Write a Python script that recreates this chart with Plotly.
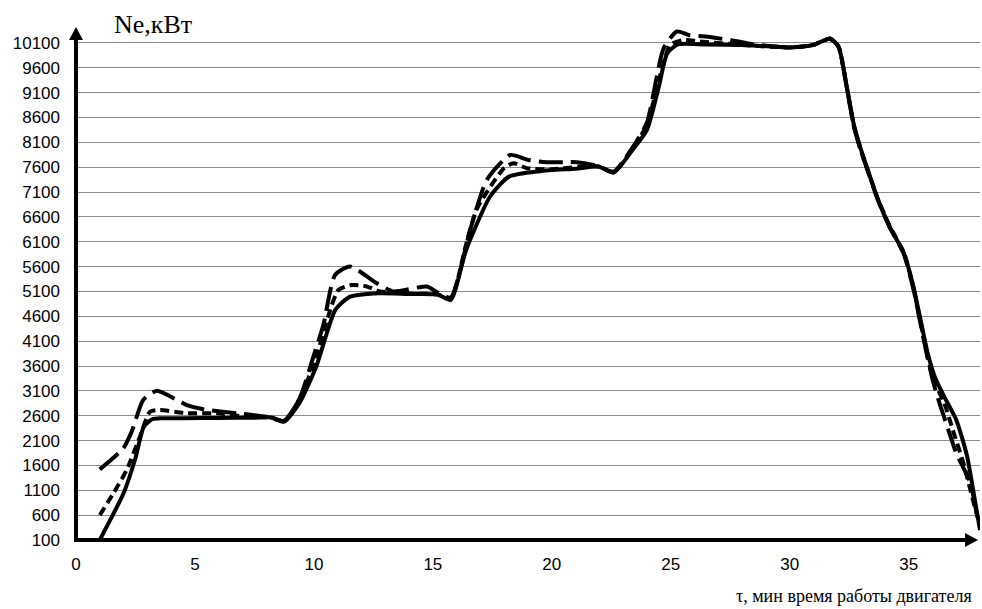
import plotly.graph_objects as go

# Engine power Ne (kW) versus running time tau (min) for three runs
t_solid = [1.0, 1.5, 2.0, 2.5, 2.85, 3.2, 3.6, 4.5, 6.0, 7.5, 8.2, 8.75, 9.4, 10.1,
           10.9, 11.5, 12.5, 14.0, 15.2, 15.75, 16.4, 17.4, 18.2, 19.5, 21.0, 22.0,
           22.6, 23.4, 24.0, 24.5, 24.85, 25.3, 26.5, 28.0, 30.0, 31.0, 31.7, 32.05,
           32.4, 32.7, 33.0, 33.35, 33.7, 34.2, 34.8, 35.2, 35.5, 35.8, 36.1, 36.5,
           37.0, 37.45, 37.75, 38.0]
ne_solid = [100, 560, 1040, 1750, 2380, 2530, 2550, 2550, 2555, 2560, 2565, 2480, 2860, 3590,
            4730, 4990, 5060, 5050, 5040, 4930, 5935, 7005, 7410, 7520, 7570, 7610,
            7490, 7950, 8350, 9220, 9890, 10070, 10070, 10060, 10010, 10060, 10190, 10030,
            9220, 8450, 7950, 7450, 6960, 6400, 5870, 5200, 4530, 3860, 3380, 2980,
            2520, 1800, 1000, 300]

t_short = [1.0, 1.57, 2.13, 2.69, 3.11, 3.53, 4.66, 5.92, 7.18, 8.2, 8.75, 9.35, 10.05,
           10.6, 11.03, 11.59, 12.22, 12.78, 14.0, 15.2, 15.75, 16.4, 16.85, 17.97, 18.39,
           18.95, 20.0, 21.9, 22.6, 23.4, 24.0, 24.5, 24.98, 25.54, 26.17, 28.0, 30.0,
           31.0, 31.7, 32.05, 32.4, 32.7, 33.0, 33.35, 33.7, 34.2, 34.8, 35.2, 35.5,
           35.8, 36.05, 36.5, 36.9, 37.3, 37.6, 37.9]
ne_short = [600, 1040, 1510, 2180, 2680, 2715, 2650, 2650, 2580, 2565, 2490, 2900, 3700,
            4600, 5130, 5230, 5200, 5100, 5060, 5040, 4950, 6050, 6760, 7570, 7680,
            7580, 7560, 7620, 7500, 7980, 8450, 9350, 10060, 10160, 10130, 10060, 10010,
            10060, 10190, 10030, 9200, 8430, 7930, 7440, 6970, 6420, 5880, 5180, 4480,
            3800, 3320, 2850, 2250, 1650, 1100, 550]

t_long = [1.0, 1.99, 2.34, 2.83, 3.39, 4.66, 5.35, 6.76, 8.0, 8.75, 9.4, 9.98, 10.4,
          10.89, 11.52, 12.65, 13.34, 14.75, 15.2, 15.75, 16.57, 17.27, 18.25, 19.02,
          19.8, 21.05, 21.9, 22.6, 23.4, 24.0, 24.7, 25.26, 25.75, 26.45, 27.85, 28.5,
          30.0, 31.0, 31.7, 32.05, 32.4, 32.7, 33.0, 33.35, 33.7, 34.2, 34.8, 35.2,
          35.5, 35.8, 36.05, 36.3, 36.75, 37.0, 37.6, 37.85]
ne_long = [1520, 1945, 2280, 2920, 3100, 2815, 2730, 2650, 2580, 2500, 2950, 3790, 4430,
           5430, 5600, 5265, 5100, 5200, 5080, 4980, 6340, 7345, 7845, 7745,
           7700, 7700, 7630, 7510, 8000, 8500, 9990, 10330, 10260, 10230, 10130, 10070,
           10010, 10060, 10180, 10020, 9200, 8420, 7920, 7430, 6950, 6400, 5850, 5150,
           4450, 3750, 3250, 2850, 2200, 1850, 1240, 650]

x_ticks = [0, 5, 10, 15, 20, 25, 30, 35]
y_ticks = list(range(100, 10101, 500))

X_RANGE = [0, 38]
Y_RANGE = [100, 10420]

fig = go.Figure()

series = [
    (t_solid, ne_solid, "solid"),
    (t_short, ne_short, "9px,5px"),
    (t_long, ne_long, "24px,8px"),
]
for t, ne, dash in series:
    fig.add_trace(go.Scatter(
        x=t, y=ne, mode="lines",
        line=dict(color="black", width=4, dash=dash, shape="spline", smoothing=0.6),
        cliponaxis=False, showlegend=False, hoverinfo="skip",
    ))

# plot area geometry (pixels) used for the axis arrows
L, R, T, B = 76, 2, 27, 69
W, H = 982, 609
pw = W - L - R
ph = H - T - B
head = 13  # arrowhead length in px

shapes = [
    # vertical axis
    dict(type="line", xref="paper", yref="paper", x0=0, x1=0,
         y0=-2 / ph, y1=1 - (head - 1) / ph, line=dict(color="black", width=4)),
    dict(type="path", xref="paper", yref="paper", xsizemode="pixel", ysizemode="pixel",
         xanchor=0, yanchor=1,
         path=f"M0,0 L-7,-{head} L7,-{head} Z",
         fillcolor="black", line=dict(color="black", width=0)),
    # horizontal axis
    dict(type="line", xref="paper", yref="paper", x0=-2 / pw, x1=(978 - L - head + 1) / pw,
         y0=0, y1=0, line=dict(color="black", width=4)),
    dict(type="path", xref="paper", yref="paper", xsizemode="pixel", ysizemode="pixel",
         xanchor=(978 - L) / pw, yanchor=0,
         path=f"M0,0 L-{head},7 L-{head},-7 Z",
         fillcolor="black", line=dict(color="black", width=0)),
]

annotations = [
    dict(text="Ne,кВт", xref="paper", yref="paper", x=(112 - L) / pw, y=(540 - 24) / ph,
         xanchor="left", yanchor="middle", showarrow=False,
         font=dict(family="Liberation Serif, Times New Roman, serif", size=26, color="black")),
    dict(text="τ, мин время работы двигателя", xref="paper", yref="paper",
         x=(974 - L) / pw, y=(540 - 596) / ph, xanchor="right", yanchor="middle",
         showarrow=False,
         font=dict(family="Liberation Serif, Times New Roman, serif", size=18, color="black")),
]

tick_font = dict(family="Liberation Sans, Arial, sans-serif", size=17, color="black")

fig.update_layout(
    width=W, height=H,
    margin=dict(l=L, r=R, t=T, b=B, pad=0),
    paper_bgcolor="white", plot_bgcolor="white",
    xaxis=dict(range=X_RANGE, tickvals=x_ticks, ticktext=[str(v) for v in x_ticks],
               showgrid=False, zeroline=False, showline=False, ticks="",
               tickfont=tick_font, ticklabelstandoff=12),
    yaxis=dict(range=Y_RANGE, tickvals=y_ticks, ticktext=[str(v) for v in y_ticks],
               showgrid=True, gridcolor="#8a8a8a", gridwidth=1,
               zeroline=False, showline=False, ticks="",
               tickfont=tick_font, ticklabelstandoff=15),
    shapes=shapes,
    annotations=annotations,
)

fig.write_html("out.html")
